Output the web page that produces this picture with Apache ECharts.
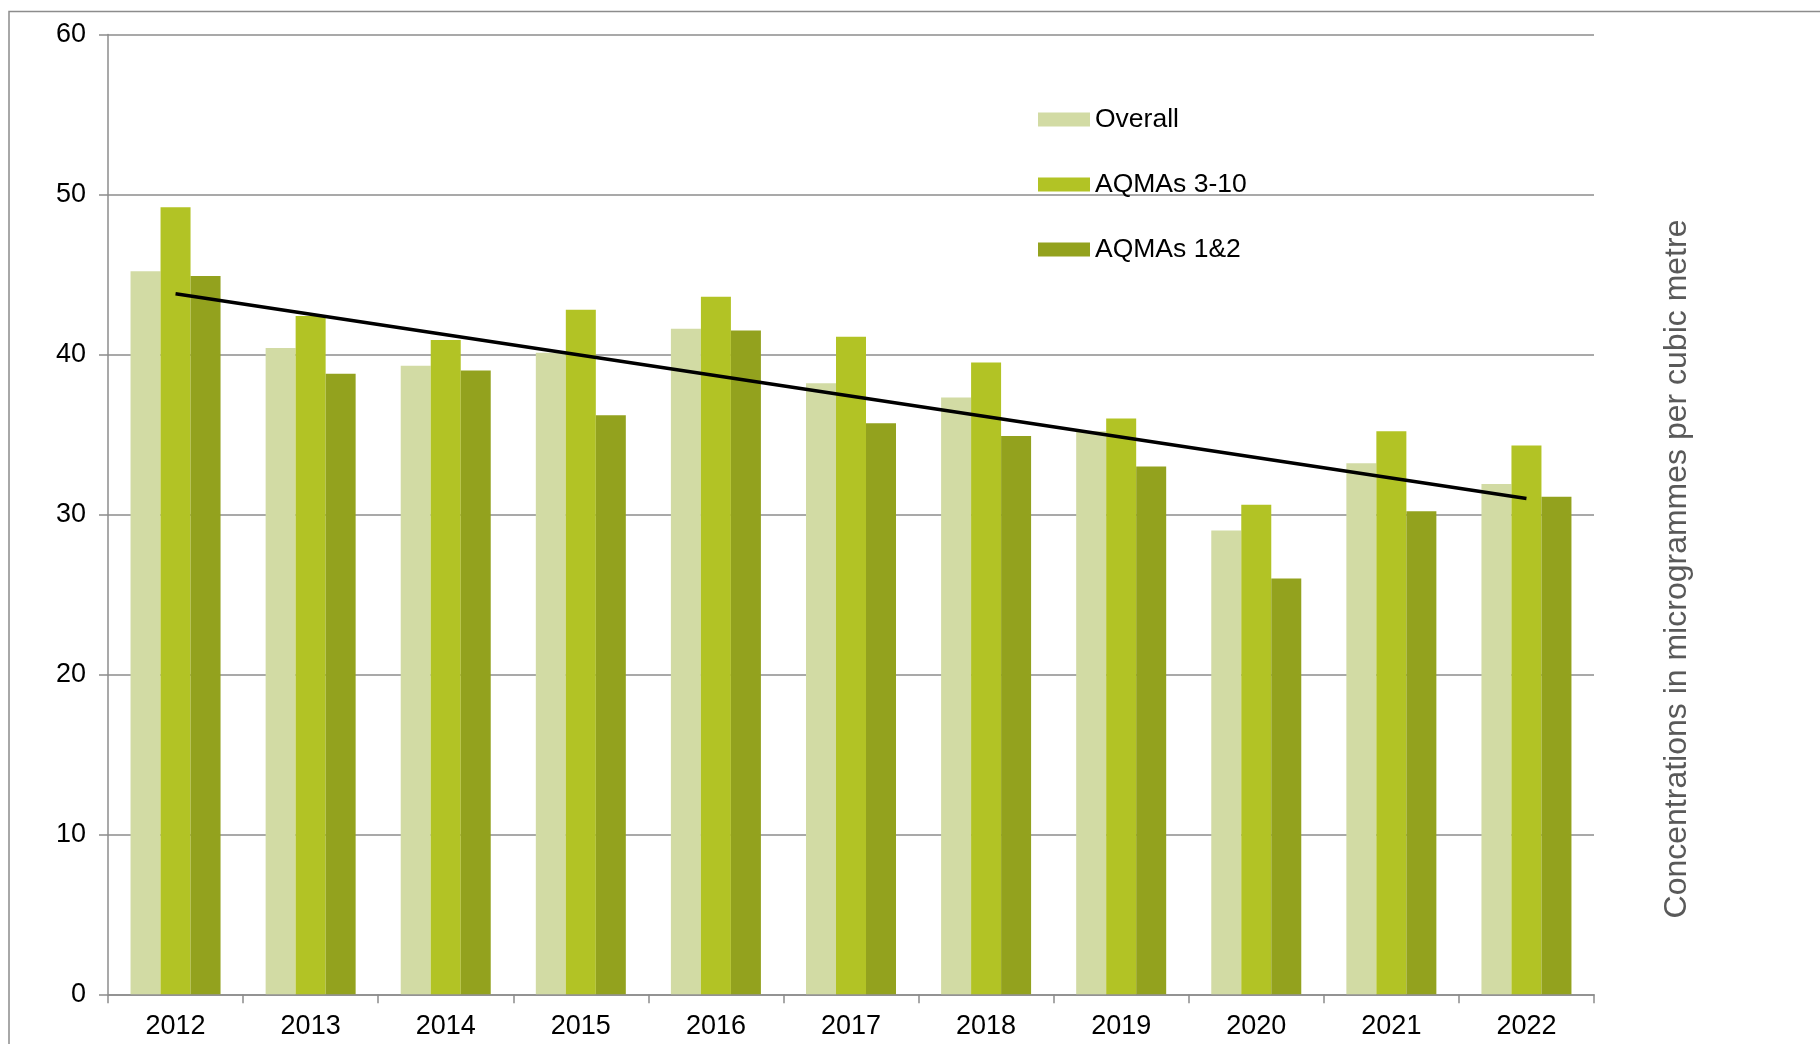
<!DOCTYPE html>
<html>
<head>
<meta charset="utf-8">
<script src="https://cdn.jsdelivr.net/npm/echarts@6/dist/echarts.min.js"></script>
<style>
html,body{margin:0;padding:0;background:#fff;}
#chart{width:1820px;height:1044px;}
</style>
</head>
<body>
<div id="chart"></div>
<script>
var years = ['2012','2013','2014','2015','2016','2017','2018','2019','2020','2021','2022'];
var overall = [45.2, 40.4, 39.3, 40.1, 41.6, 38.2, 37.3, 35.2, 29.0, 33.2, 31.9];
var aqmas310 = [49.2, 42.4, 40.9, 42.8, 43.6, 41.1, 39.5, 36.0, 30.6, 35.2, 34.3];
var aqmas12 = [44.9, 38.8, 39.0, 36.2, 41.5, 35.7, 34.9, 33.0, 26.0, 30.2, 31.1];
var trend = [43.8, '-', '-', '-', '-', '-', '-', '-', '-', '-', 31.0];
var seriesNames = ['Overall', 'AQMAs 3-10', 'AQMAs 1&2'];
var yTitle = 'Concentrations in microgrammes per cubic metre';

var FONT = "'Liberation Sans', Arial, sans-serif";
var chart = echarts.init(document.getElementById('chart'), null, {renderer: 'canvas'});
chart.setOption({
  backgroundColor: '#ffffff',
  animation: false,
  textStyle: {fontFamily: FONT},
  grid: {left: 108, right: 226, top: 34.5, bottom: 49.7, containLabel: false},
  legend: {
    data: seriesNames,
    orient: 'vertical',
    left: 1033,
    top: 101,
    itemWidth: 52,
    itemHeight: 14,
    itemGap: 38,
    icon: 'rect',
    textStyle: {fontFamily: FONT, fontSize: 26.5, color: '#000', lineHeight: 26}
  },
  xAxis: {
    type: 'category',
    data: years,
    boundaryGap: true,
    axisLine: {lineStyle: {color: '#8c8c8c', width: 1.5}},
    axisTick: {show: true, alignWithLabel: false, length: 9, lineStyle: {color: '#8c8c8c', width: 1.5}},
    axisLabel: {fontFamily: FONT, fontSize: 27, color: '#000', margin: 19},
    splitLine: {show: false}
  },
  yAxis: {
    type: 'value',
    min: 0, max: 60, interval: 10,
    axisLine: {show: true, lineStyle: {color: '#8c8c8c', width: 1.5}},
    axisTick: {show: true, length: 9, lineStyle: {color: '#8c8c8c', width: 1.5}},
    axisLabel: {fontFamily: FONT, fontSize: 27, color: '#000', margin: 22},
    splitLine: {show: true, lineStyle: {color: '#8c8c8c', width: 1.5}}
  },
  series: [
    {name: seriesNames[0], type: 'bar', data: overall, barWidth: 30, barGap: '0%',
     itemStyle: {color: '#d2dba4'}},
    {name: seriesNames[1], type: 'bar', data: aqmas310, barWidth: 30, barGap: '0%',
     itemStyle: {color: '#b2c325'}},
    {name: seriesNames[2], type: 'bar', data: aqmas12, barWidth: 30, barGap: '0%',
     itemStyle: {color: '#93a21e'}},
    {name: 'Trend', type: 'line', data: trend, connectNulls: true, symbol: 'none',
     lineStyle: {color: '#000', width: 3.5}, z: 5}
  ],
  graphic: [
    {type: 'rect', silent: true, z: -1,
     shape: {x: 9, y: 11.5, width: 1900, height: 1100},
     style: {fill: 'none', stroke: '#8c8c8c', lineWidth: 1.5}},
    {type: 'text', silent: true,
     x: 1677, y: 569, rotation: Math.PI / 2,
     style: {text: yTitle, font: "32px 'Liberation Sans', Arial, sans-serif", fill: '#595959',
             textAlign: 'center', textVerticalAlign: 'middle'}}
  ]
});
</script>
</body>
</html>
